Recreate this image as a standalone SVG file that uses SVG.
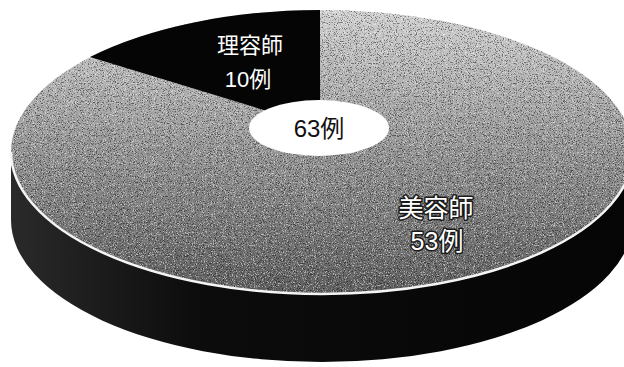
<svg xmlns="http://www.w3.org/2000/svg" width="624" height="367" viewBox="0 0 624 367">
  <style>
    .jp { font-family: "Liberation Sans", "Noto Sans CJK JP", sans-serif; text-anchor: middle; }
    .lblw { fill: #ffffff; font-size: 22px; }
    .lblo { fill: #ffffff; font-size: 25px; stroke: #1a1a1a; stroke-width: 3px; paint-order: stroke; stroke-linejoin: round; }
    .total { fill: #111111; font-size: 24px; }
  </style>
  <defs>
    <linearGradient id="topGrad" x1="0" y1="10" x2="0" y2="295" gradientUnits="userSpaceOnUse">
      <stop offset="0" stop-color="#d2d2d2"/>
      <stop offset="0.45" stop-color="#9a9a9a"/>
      <stop offset="1" stop-color="#5e5e5e"/>
    </linearGradient>
    <linearGradient id="sideGrad" x1="0" y1="0" x2="1" y2="0">
      <stop offset="0" stop-color="#2a2a2a"/>
      <stop offset="0.3" stop-color="#0c0c0c"/>
      <stop offset="1" stop-color="#050505"/>
    </linearGradient>
    <clipPath id="topClip">
      <ellipse cx="322" cy="152" rx="311" ry="142"/>
    </clipPath>
    <filter id="speck" x="0" y="0" width="624" height="367" filterUnits="userSpaceOnUse">
      <feTurbulence type="fractalNoise" baseFrequency="0.85" numOctaves="2" seed="7" result="n"/>
      <feColorMatrix in="n" type="matrix" values="0 0 0 0 0  0 0 0 0 0  0 0 0 0 0  -7 0 0 0 3.2"/>
    </filter>
    <filter id="speckW" x="0" y="0" width="624" height="367" filterUnits="userSpaceOnUse">
      <feTurbulence type="fractalNoise" baseFrequency="0.9" numOctaves="2" seed="19" result="n"/>
      <feColorMatrix in="n" type="matrix" values="0 0 0 0 1  0 0 0 0 1  0 0 0 0 1  7 0 0 0 -3.9"/>
    </filter>
  </defs>

  <rect x="0" y="0" width="624" height="367" fill="#ffffff"/>

  <g id="pie-side">
    <path d="M 11 152 A 311 142 0 0 0 633 152 L 633 220 A 311 142 0 0 1 11 220 Z" fill="url(#sideGrad)"/>
  </g>

  <g id="slice-biyoushi">
    <ellipse cx="322" cy="152" rx="311" ry="142" fill="url(#topGrad)"/>
    <g clip-path="url(#topClip)">
      <rect x="0" y="0" width="624" height="367" filter="url(#speck)" opacity="0.45"/>
      <rect x="0" y="0" width="624" height="367" filter="url(#speckW)" opacity="0.5"/>
    </g>
    <path d="M 11 152 A 311 142 0 0 0 633 152" fill="none" stroke="#f4f4f4" stroke-width="2.5"/>
    <text class="jp lblo" x="436" y="217">美容師</text>
    <text class="jp lblo" x="437" y="250">53例</text>
  </g>

  <g id="slice-riyoushi">
    <path d="M 320 127 L 320 10 A 311 142 0 0 0 90 57 Z" fill="#050505"/>
    <text class="jp lblw" x="250" y="53">理容師</text>
    <text class="jp lblw" x="248" y="87">10例</text>
  </g>

  <g id="label-total">
    <ellipse cx="319" cy="128" rx="70" ry="28" fill="#ffffff"/>
    <text class="jp total" x="319" y="137">63例</text>
  </g>
</svg>
